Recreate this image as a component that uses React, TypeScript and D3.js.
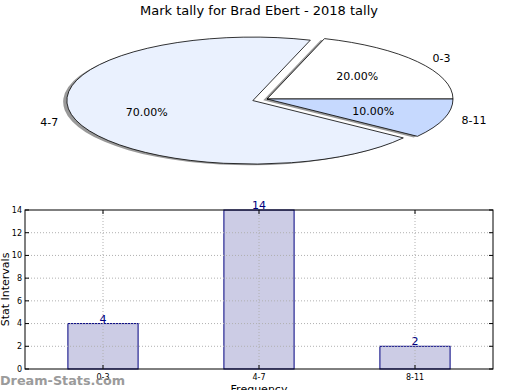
import React from "react";
import * as d3 from "d3";

const title = "Mark tally for Brad Ebert - 2018 tally";
const categories = ["0-3", "4-7", "8-11"];
const counts = [4, 14, 2];
const sliceColors = ["#ffffff", "#eaf1fe", "#c6d9fe"];
const explode = [0, 0.08, 0];
const yTicks = [0, 2, 4, 6, 8, 10, 12, 14];

const W = 520;
const H = 390;
const font = "DejaVu Sans, sans-serif";

export default function App() {
  // pie (matplotlib style: start east, counterclockwise, squashed into an ellipse)
  const cx = 267;
  const cy = 99;
  const rx = 186;
  const ry = 63.5;
  const total = d3.sum(counts);

  const pieGen = d3
    .pie<number>()
    .sort(null)
    .startAngle(Math.PI / 2)
    .endAngle(Math.PI / 2 - 2 * Math.PI);
  const arcs = pieGen(counts);
  const arcGen = d3.arc<d3.PieArcDatum<number>>().innerRadius(0).outerRadius(1);

  const slices = arcs.map((a, i) => {
    const mid = (a.startAngle + a.endAngle) / 2;
    const ox = cx + Math.sin(mid) * explode[i] * rx;
    const oy = cy - Math.cos(mid) * explode[i] * ry;
    return { a, i, mid, ox, oy };
  });

  // bars
  const x = d3.scaleLinear().domain([-0.5, 2.5]).range([25, 493]);
  const y = d3.scaleLinear().domain([0, 14]).range([369, 210]);
  const barW = 0.45;

  return (
    <svg width={W} height={H} style={{ position: "absolute", left: 0, top: 0, background: "#fff" }} fontFamily={font}>
      <text x={259} y={15} textAnchor="middle" fontSize={13}>{title}</text>

      {/* shadows */}
      {slices.map(s => (
        <path key={"sh" + s.i}
          d={arcGen(s.a) || ""}
          transform={`translate(${s.ox - 0.02 * rx},${s.oy + 0.02 * ry}) scale(${rx},${ry})`}
          fill="#000" opacity={0.4} />
      ))}
      {slices.map(s => (
        <path key={"sl" + s.i}
          d={arcGen(s.a) || ""}
          transform={`translate(${s.ox},${s.oy}) scale(${rx},${ry})`}
          fill={sliceColors[s.i]} stroke="#000" strokeWidth={0.8}
          vectorEffect="non-scaling-stroke" strokeLinejoin="round" />
      ))}
      {slices.map(s => {
        const sx = Math.sin(s.mid);
        const lx = s.ox + sx * 1.1 * rx;
        const ly = s.oy - Math.cos(s.mid) * 1.1 * ry;
        const px = s.ox + sx * 0.6 * rx;
        const py = s.oy - Math.cos(s.mid) * 0.6 * ry;
        return (
          <g key={"lb" + s.i} fontSize={11}>
            <text x={lx} y={ly} dy="0.35em" textAnchor={sx > 0 ? "start" : "end"}>{categories[s.i]}</text>
            <text x={px} y={py} dy="0.35em" textAnchor="middle">
              {((counts[s.i] / total) * 100).toFixed(2) + "%"}
            </text>
          </g>
        );
      })}

      {/* bar chart */}
      <g>
        {categories.map((c, i) => (
          <rect key={c} x={x(i - barW / 2)} y={y(counts[i])}
            width={x(i + barW / 2) - x(i - barW / 2)} height={y(0) - y(counts[i])}
            fill="#ccccE5" stroke="#000080" strokeWidth={1} />
        ))}
        {/* grid */}
        {yTicks.slice(1, -1).map(t => (
          <line key={"gy" + t} x1={x(-0.5)} x2={x(2.5)} y1={y(t)} y2={y(t)}
            stroke="#b0b0b0" strokeWidth={1} strokeDasharray="1,2" />
        ))}
        {categories.map((c, i) => (
          <line key={"gx" + c} x1={x(i)} x2={x(i)} y1={y(0)} y2={y(14)}
            stroke="#b0b0b0" strokeWidth={1} strokeDasharray="1,2" />
        ))}
        <rect x={x(-0.5)} y={y(14)} width={x(2.5) - x(-0.5)} height={y(0) - y(14)}
          fill="none" stroke="#000" strokeWidth={1} />
        {yTicks.map(t => (
          <g key={"ty" + t}>
            <line x1={x(-0.5)} x2={x(-0.5) + 4} y1={y(t)} y2={y(t)} stroke="#000" />
            <line x1={x(2.5)} x2={x(2.5) - 4} y1={y(t)} y2={y(t)} stroke="#000" />
            <text x={x(-0.5) - 3} y={y(t)} dy="0.35em" textAnchor="end" fontSize={8}>{t}</text>
          </g>
        ))}
        {categories.map((c, i) => (
          <g key={"tx" + c}>
            <line x1={x(i)} x2={x(i)} y1={y(0)} y2={y(0) - 4} stroke="#000" />
            <line x1={x(i)} x2={x(i)} y1={y(14)} y2={y(14) + 4} stroke="#000" />
            <text x={x(i)} y={y(0) + 11} textAnchor="middle" fontSize={8}>{c}</text>
            <text x={x(i)} y={y(counts[i]) - 1} textAnchor="middle" fontSize={11} fill="#000080">{counts[i]}</text>
          </g>
        ))}
        <text transform={`translate(5,${(y(0) + y(14)) / 2}) rotate(-90)`} textAnchor="middle" dy="0.35em" fontSize={11}>
          Stat Intervals
        </text>
        <text x={(x(-0.5) + x(2.5)) / 2} y={393} textAnchor="middle" fontSize={11}>Frequency</text>
      </g>

      <text x={0} y={385} fontSize={12.8} fontWeight="bold" fill="#8a8a8a" opacity={0.85}>Dream-Stats.com</text>
    </svg>
  );
}
